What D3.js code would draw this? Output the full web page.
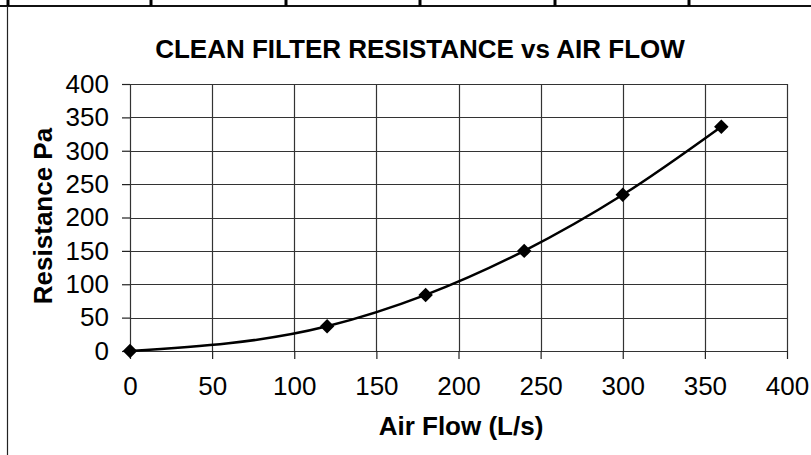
<!DOCTYPE html>
<html>
<head>
<meta charset="utf-8">
<script src="https://cdn.jsdelivr.net/npm/d3@7"></script>
<style>
  body { margin: 0; background: #fff; }
  svg { display: block; font-family: "Liberation Sans", Arial, sans-serif; }
</style>
</head>
<body>
<svg id="chart"></svg>
<script>
// data
const airFlow = [0, 120, 180, 240, 300, 360];
const resistance = [0, 37, 84, 150, 234, 336];
const xTicks = [0, 50, 100, 150, 200, 250, 300, 350, 400];
const yTicks = [0, 50, 100, 150, 200, 250, 300, 350, 400];
const tableCols = [8, 151, 286, 420, 555, 689];

const width = 811;
const height = 455;

const plotLeft = 130;
const plotRight = 787;
const plotTop = 84;
const plotBottom = 351;

const svg = d3.select("#chart")
    .attr("width", width)
    .attr("height", height);

// bits of the spreadsheet table above the chart
svg.append("line")
    .attr("x1", 0).attr("x2", width)
    .attr("y1", 6).attr("y2", 6)
    .attr("stroke", "#111").attr("stroke-width", 2);

svg.selectAll("line.tcol")
    .data(tableCols)
    .enter()
    .append("line")
    .attr("class", "tcol")
    .attr("x1", d => d).attr("x2", d => d)
    .attr("y1", 0).attr("y2", 6)
    .attr("stroke", "#000").attr("stroke-width", 3);

// chart area border (left side)
svg.append("line")
    .attr("x1", 7.5).attr("x2", 7.5)
    .attr("y1", 6).attr("y2", height)
    .attr("stroke", "#222").attr("stroke-width", 1.2);

const x = d3.scaleLinear()
    .domain([0, 400])
    .range([plotLeft, plotRight]);

const y = d3.scaleLinear()
    .domain([0, 400])
    .range([plotBottom, plotTop]);

// gridlines
svg.selectAll("line.hgrid")
    .data(yTicks)
    .enter()
    .append("line")
    .attr("class", "hgrid")
    .attr("x1", plotLeft).attr("x2", plotRight)
    .attr("y1", d => Math.round(y(d)) + 0.5).attr("y2", d => Math.round(y(d)) + 0.5)
    .attr("stroke", "#333").attr("stroke-width", 1.2);

svg.selectAll("line.vgrid")
    .data(xTicks)
    .enter()
    .append("line")
    .attr("class", "vgrid")
    .attr("x1", d => Math.round(x(d)) + 0.5).attr("x2", d => Math.round(x(d)) + 0.5)
    .attr("y1", plotTop).attr("y2", plotBottom)
    .attr("stroke", "#333").attr("stroke-width", 1.2);

// axes
const xAxis = d3.axisBottom(x)
    .tickValues(xTicks)
    .tickSize(8)
    .tickPadding(18)
    .tickFormat(d3.format("d"));

const yAxis = d3.axisLeft(y)
    .tickValues(yTicks)
    .tickSize(8)
    .tickPadding(13)
    .tickFormat(d3.format("d"));

const gx = svg.append("g")
    .attr("transform", `translate(0, ${plotBottom})`)
    .call(xAxis);

const gy = svg.append("g")
    .attr("transform", `translate(${plotLeft}, 0)`)
    .call(yAxis);

[gx, gy].forEach(g => {
    g.select(".domain").remove();
    g.selectAll(".tick line").attr("stroke", "#222").attr("stroke-width", 1.2);
    g.selectAll(".tick text")
        .attr("fill", "#000")
        .style("font-size", "26px")
        .style("font-family", "'Liberation Sans', Arial, sans-serif");
});

// curve
const line = d3.line()
    .x((d, i) => x(airFlow[i]))
    .y(d => y(d))
    .curve(d3.curveMonotoneX);

svg.append("path")
    .datum(resistance)
    .attr("d", line)
    .attr("fill", "none")
    .attr("stroke", "#000")
    .attr("stroke-width", 2.5);

// diamond markers
svg.selectAll("path.marker")
    .data(resistance)
    .enter()
    .append("path")
    .attr("class", "marker")
    .attr("d", d3.symbol().type(d3.symbolSquare).size(105))
    .attr("transform", (d, i) => `translate(${x(airFlow[i])}, ${y(d)}) rotate(45)`)
    .attr("fill", "#000");

// titles
svg.append("text")
    .attr("x", 420)
    .attr("y", 58)
    .attr("text-anchor", "middle")
    .style("font-size", "26px")
    .style("font-weight", "bold")
    .text("CLEAN FILTER RESISTANCE vs AIR FLOW");

svg.append("text")
    .attr("x", 461)
    .attr("y", 435)
    .attr("text-anchor", "middle")
    .style("font-size", "26px")
    .style("font-weight", "bold")
    .text("Air Flow (L/s)");

svg.append("text")
    .attr("transform", `translate(52, 216) rotate(-90)`)
    .attr("text-anchor", "middle")
    .style("font-size", "26px")
    .style("font-weight", "bold")
    .text("Resistance Pa");
</script>
</body>
</html>
